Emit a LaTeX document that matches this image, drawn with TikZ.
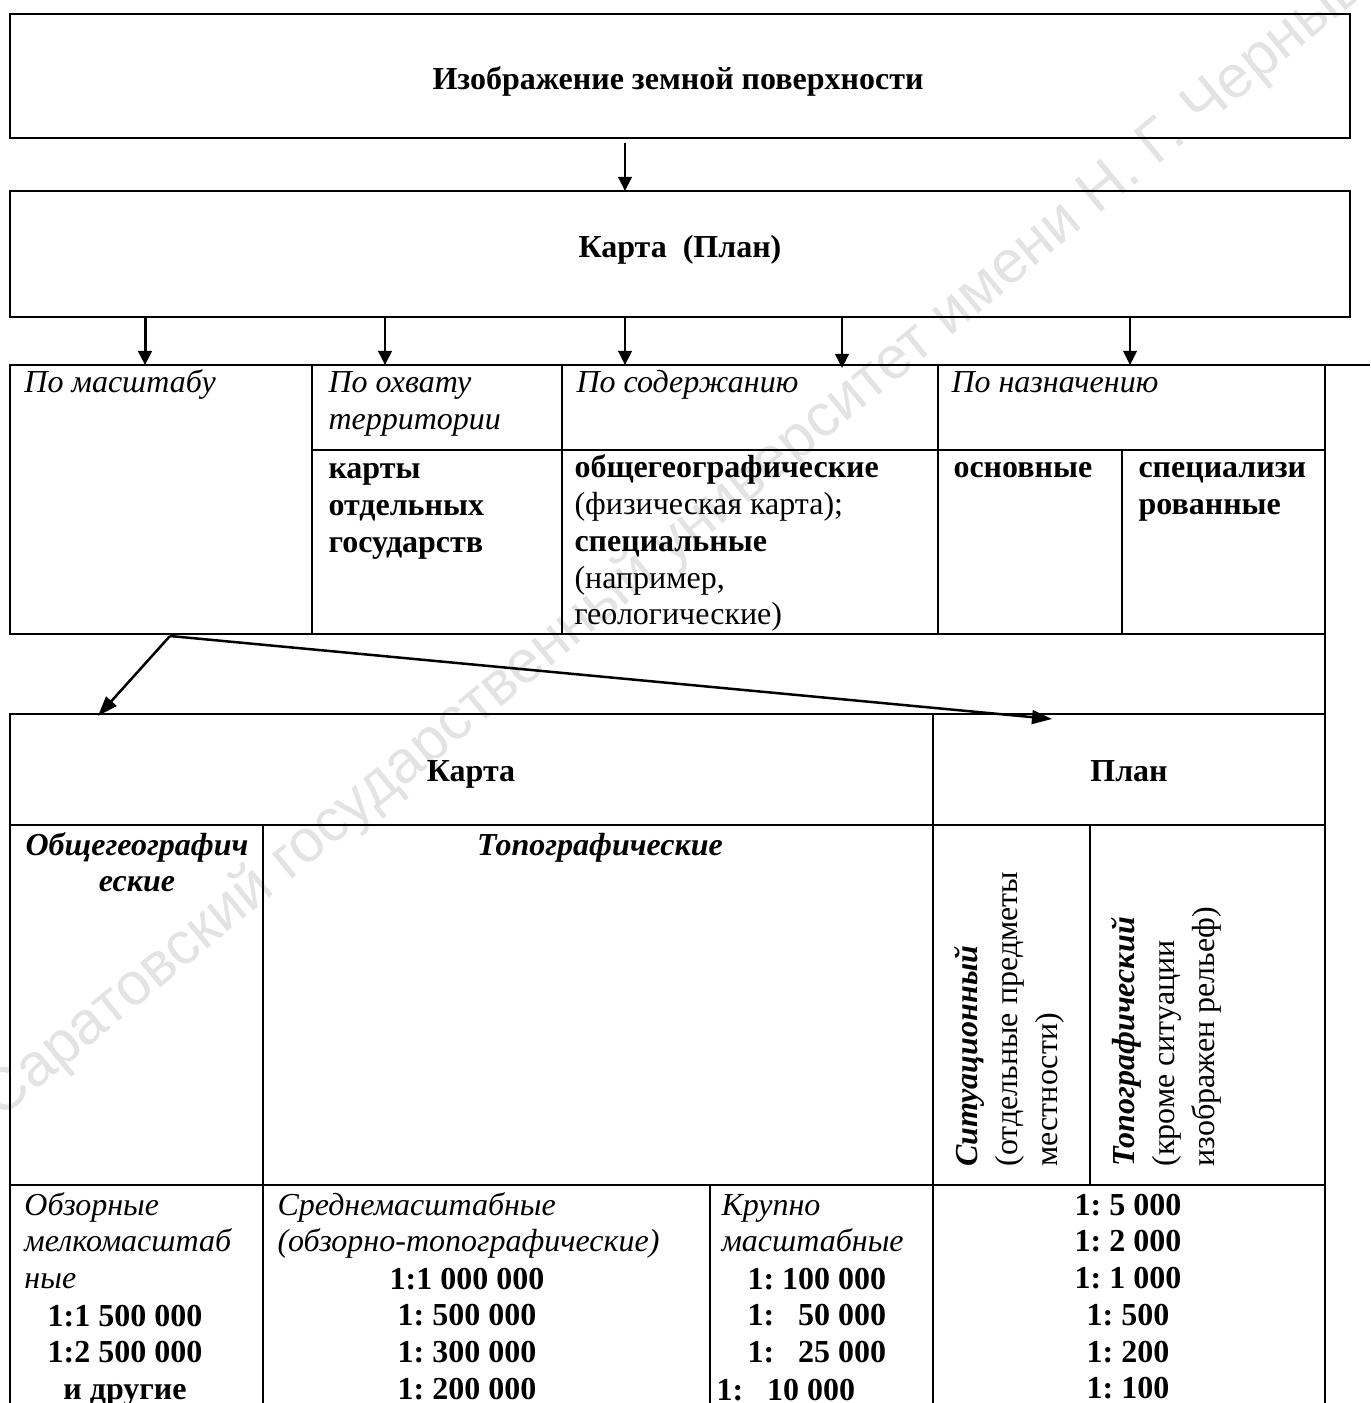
\documentclass[tikz,border=0pt]{standalone}
\usepackage{fontspec}
\setmainfont{Liberation Serif}
\newfontfamily\wmfont{Liberation Sans}
\usepackage{tikz}
\usetikzlibrary{arrows.meta,fit}

\begin{document}
\frenchspacing
\begin{tikzpicture}[x=0.4pt, y=-0.4pt,
  cell/.style={draw, line width=1pt, inner sep=0pt, outer sep=0pt},
  txt/.style={inner sep=0pt, anchor=base west, font=\fontsize{12.8}{14.7}\selectfont},
  ltxt/.style={txt, text width=#1, align=flush left},
  ctxt/.style={txt, anchor=base, text width=#1, align=flush center},
  vtxt/.style={inner sep=0pt, anchor=base west, rotate=90, text width=130pt, align=flush left,
    font=\fontsize{12.8}{16}\selectfont},
  arr/.style={-{Triangle[length=5.6pt,width=5.4pt]}, line width=0.8pt},
  darr/.style={-{Triangle[length=8pt,width=5.5pt]}, line width=1pt},
  wm/.style={inner sep=0pt, anchor=base west, rotate=39.5, text=gray!22,
    font=\wmfont\fontsize{24}{30}\selectfont}]
\useasboundingbox (0,0) rectangle (1370,1403);
% watermark of the source, behind everything
\begin{scope}
\clip (0,0) rectangle (1370,1403);
\node[wm] (wmark) at (0,1120) {Саратовский государственный университет имени Н. Г. Чернышевского};
\end{scope}
% two boxes on top
\node[cell, fit={(10,14) (1350,138)}] (img) {};
\node[cell, fit={(10,191) (1350,317)}] (map) {};
\node[txt, anchor=base] (tImg) at (678,90) {\textbf{Изображение земной поверхности}};
\node[txt, anchor=base] (tMap) at (680,258) {\textbf{Карта\ \ (План)}};
% first table: kinds of maps
\node[cell, fit={(10,365) (312,634)}] (scale) {};
\node[cell, fit={(312,365) (562,450)}] (cover) {};
\node[cell, fit={(562,365) (938,450)}] (content) {};
\node[cell, fit={(938,365) (1325,450)}] (purpose) {};
\node[cell, fit={(312,450) (562,634)}] (coverB) {};
\node[cell, fit={(562,450) (938,634)}] (contentB) {};
\node[cell, fit={(938,450) (1122,634)}] (basic) {};
\node[cell, fit={(1122,450) (1325,634)}] (special) {};
\node[txt] (tScale) at (24,393) {\textit{По масштабу}};
\node[ltxt=90pt] (tCover) at (328,393) {\textit{По охвату\\территории}};
\node[txt] (tContent) at (576,393) {\textit{По содержанию}};
\node[txt] (tPurpose) at (951,393) {\textit{По назначению}};
\node[ltxt=90pt] (tCoverB) at (328,479) {\textbf{карты\\отдельных\\государств}};
\node[ltxt=140pt] (tContentB) at (574,478)
  {\textbf{общегеографические}\\(физическая карта);\\\textbf{специальные}\\(например,\\геологические)};
\node[txt] (tBasic) at (953,478) {\textbf{основные}};
\node[ltxt=80pt] (tSpecial) at (1138,478) {\textbf{специализи\\рованные}};
% second table: map or plan
\node[cell, fit={(10,714) (933,825)}] (karta) {};
\node[cell, fit={(933,714) (1325,825)}] (plan) {};
\node[cell, fit={(10,825) (263,1185)}] (general) {};
\node[cell, fit={(263,825) (933,1185)}] (topo) {};
\node[cell, fit={(933,825) (1090,1185)}] (situ) {};
\node[cell, fit={(1090,825) (1325,1185)}] (topoPlan) {};
\node[cell, fit={(10,1185) (263,1412)}] (ovr) {};
\node[cell, fit={(263,1185) (710,1412)}] (mid) {};
\node[cell, fit={(710,1185) (933,1412)}] (large) {};
\node[cell, fit={(933,1185) (1325,1412)}] (planScales) {};
\draw[line width=1pt] (purpose.north east) -- (1370,365);
\draw[line width=1pt] (special.south east) -- (plan.north east);
\node[txt, anchor=base] (tKarta) at (471,781) {\textbf{Карта}};
\node[txt, anchor=base] (tPlan) at (1129,781) {\textbf{План}};
\node[ctxt=96pt] (tGeneral) at (137,855) {\textbf{\textit{Общегеографич\\еские}}};
\node[txt, anchor=base] (tTopo) at (600,855) {\textbf{\textit{Топографические}}};
\node[vtxt] (tSitu) at (977,1167) {\textbf{\textit{Ситуационный}}\\(отдельные предметы\\местности)};
\node[vtxt] (tTopoPlan) at (1134,1167) {\textbf{\textit{Топографический}}\\(кроме ситуации\\изображен рельеф)};
% scales
\node[ltxt=110pt] (tOvr) at (24,1215) {\textit{Обзорные\\мелкомасштаб\\ные}};
\node[ctxt=95pt] (tOvrN) at (125,1326) {\textbf{1:1 500 000\\1:2 500 000\\и другие}};
\node[ltxt=170pt] (tMid) at (277,1215) {\textit{Среднемасштабные\\(обзорно-топографические)}};
\node[ctxt=110pt] (tMidN) at (467,1289) {\textbf{1:1 000 000\\1: 500 000\\1: 300 000\\1: 200 000}};
\node[ltxt=85pt] (tLarge) at (721,1215) {\textit{Крупно\\масштабные}};
\node[ltxt=80pt] (tLargeN) at (747,1289) {\textbf{1: 100 000\\1: \hphantom{0}50 000\\1: \hphantom{0}25 000}};
\node[txt] (tLargeL) at (716,1400) {\textbf{1: \hphantom{0}10 000}};
\node[ctxt=120pt] (tPlanN) at (1128,1215) {\textbf{1: 5 000\\1: 2 000\\1: 1 000\\1: 500\\1: 200\\1: 100}};
% arrows
\foreach \n/\x in {a/625,b/145,c/385,d/625,e/842,f/1130} \coordinate (x\n) at (\x,0);
\draw[arr, shorten <=2pt] (img.south -| xa) -- (map.north -| xa);
\draw[arr, line width=1.2pt] (map.south -| xb) -- (scale.north -| xb);
\draw[arr] (map.south -| xc) -- (cover.north -| xc);
\draw[arr] (map.south -| xd) -- (content.north -| xd);
\draw[arr, shorten >=-1.2pt] (map.south -| xe) -- (content.north -| xe);
\draw[arr] (map.south -| xf) -- (purpose.north -| xf);
\coordinate (fork) at (170,636);
\coordinate (toMap) at (98,716);
\coordinate (toPlan) at (1052,719);
\draw[darr] (fork) -- (toMap);
\draw[darr] (fork) -- (toPlan);
\end{tikzpicture}
\end{document}
